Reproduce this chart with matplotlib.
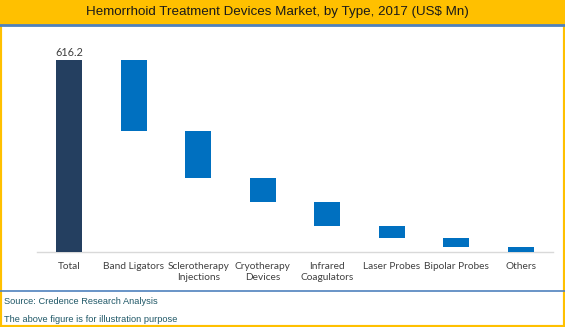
import matplotlib
matplotlib.use("Agg")
import matplotlib.pyplot as plt
from matplotlib.patches import Rectangle
from matplotlib.lines import Line2D

# Market segments (US$ Mn, 2017)
categories = ["Total", "Band Ligators", "Sclerotherapy\nInjections", "Cryotherapy\nDevices",
              "Infrared\nCoagulators", "Laser Probes", "Bipolar Probes", "Others"]
total_value = 616.2
segment_values = [227.5, 151.0, 77.0, 76.0, 38.5, 29.0, 17.2]

W, H = 565, 327
fig = plt.figure(figsize=(W / 100, H / 100), dpi=100)
fig.patch.set_facecolor("white")

# Frame: yellow title band, yellow border, blue separators
fig.add_artist(Rectangle((0, 1 - 24 / H), 1, 24 / H, transform=fig.transFigure,
                         facecolor="#FFC000", edgecolor="none", zorder=0))
fig.add_artist(Rectangle((0, 0), 1, 1 - 24 / H, transform=fig.transFigure,
                         facecolor="none", edgecolor="#FFC000", linewidth=3, zorder=5))
fig.add_artist(Line2D([0, 1], [1 - 25 / H, 1 - 25 / H], transform=fig.transFigure,
                      color="#4F81BD", linewidth=2, zorder=6))
fig.add_artist(Line2D([0, 1], [1 - 291 / H, 1 - 291 / H], transform=fig.transFigure,
                      color="#4F81BD", linewidth=1.2, zorder=6))

fig.text(277 / W, 1 - 12 / H, "Hemorrhoid Treatment Devices Market, by Type, 2017 (US$ Mn)",
         ha="center", va="center", fontsize=9.6, family="Liberation Sans", color="#1a1a1a")
fig.text(4 / W, 1 - 302 / H, "Source: Credence Research Analysis", ha="left", va="center",
         fontsize=6.7, family="Liberation Sans", color="#215968")
fig.text(4 / W, 1 - 320 / H, "The above figure is for illustration purpose", ha="left", va="center",
         fontsize=6.7, family="Liberation Sans", color="#215968")

ax_left, ax_right = 37 / W, 553 / W
ax_bottom, ax_top = 1 - 252 / H, 1 - 40 / H
ax = fig.add_axes([ax_left, ax_bottom, ax_right - ax_left, ax_top - ax_bottom])
ax.set_facecolor("none")

x = list(range(len(categories)))
bar_w = 0.4
ax.bar(x[0], total_value, width=bar_w, color="#243F60", zorder=3)
ax.text(x[0], total_value + 8, f"{total_value:.1f}", ha="center", va="bottom",
        fontsize=7.8, family="Lato", color="#404040")

level = total_value
for i, v in enumerate(segment_values, start=1):
    ax.bar(x[i], v, bottom=level - v, width=bar_w, color="#0070C0", zorder=3)
    level -= v

ax.set_xlim(-0.5, len(categories) - 0.5)
ax.set_ylim(0, total_value + 20 * total_value / 192)
ax.set_yticks([])
ax.set_xticks(x)
ax.set_xticklabels(categories, fontsize=7.3, family="Lato", color="#404040", linespacing=1.35)
ax.tick_params(axis="x", length=0, pad=7)
for s in ["top", "right", "left"]:
    ax.spines[s].set_visible(False)
ax.spines["bottom"].set_color("#D9D9D9")
ax.spines["bottom"].set_linewidth(1)

fig.savefig("out.png", dpi=100, facecolor="white")
